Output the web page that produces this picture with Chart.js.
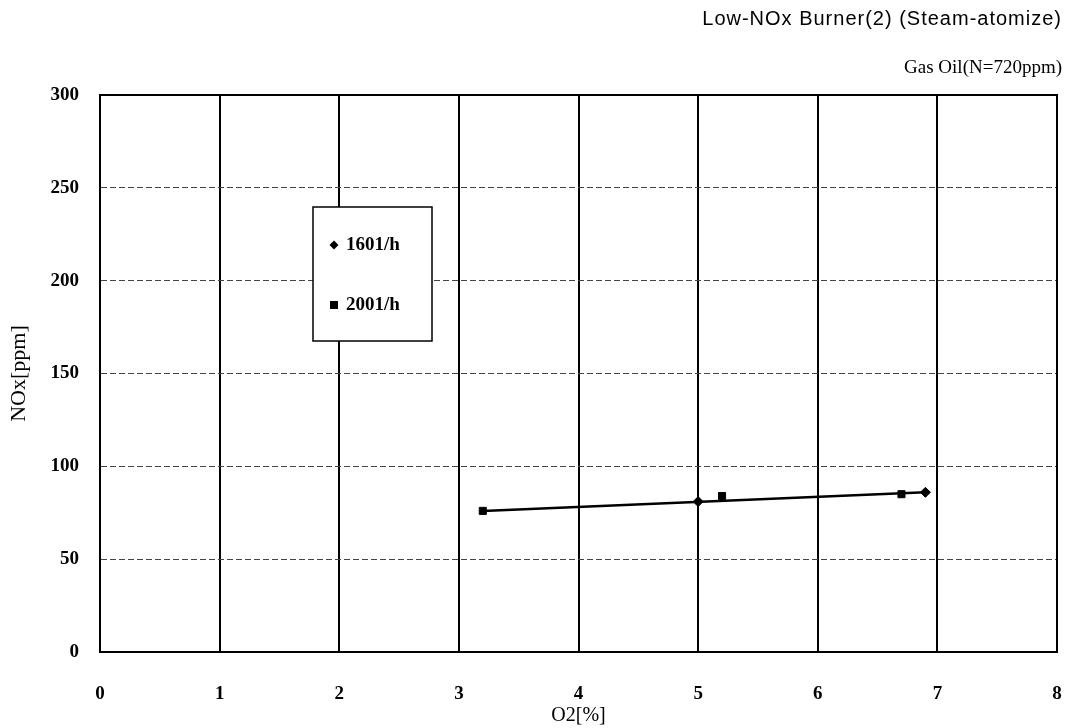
<!DOCTYPE html>
<html>
<head>
<meta charset="utf-8">
<script src="https://cdn.jsdelivr.net/npm/chart.js@4.4.1/dist/chart.umd.min.js"></script>
<style>
  html, body { margin: 0; padding: 0; background: #ffffff; }
  #wrap { width: 1075px; height: 728px; position: relative; }
</style>
</head>
<body>
<div id="wrap"><canvas id="c" width="1075" height="728"></canvas></div>
<script>
// Measured NOx against flue-gas O2 for the low-NOx burner firing gas oil
const titleLines = ['Low-NOx Burner(2) (Steam-atomize)', 'Gas Oil(N=720ppm)'];
const seriesLabels = ['1601/h', '2001/h'];
const o2_160 = [5.0, 6.9];
const nox_160 = [81, 86];
const o2_200 = [3.2, 5.2, 6.7];
const nox_200 = [76, 84, 85];
// linear trend drawn across the measured range
const trendO2 = [3.2, 6.9];
const trendNOx = [76, 86];
const xTicks = [0, 1, 2, 3, 4, 5, 6, 7, 8];
const yTicks = [0, 50, 100, 150, 200, 250, 300];

const pts = (xs, ys) => xs.map((x, i) => ({ x: x, y: ys[i] }));
const serif = '"Liberation Serif", "DejaVu Serif", serif';

const headerAndLegend = {
  id: 'headerAndLegend',
  afterDraw(chart) {
    const ctx = chart.ctx;
    ctx.save();
    ctx.fillStyle = '#000';
    ctx.textAlign = 'right';
    ctx.textBaseline = 'middle';
    ctx.font = '20px "Liberation Sans", Arial, sans-serif';
    ctx.letterSpacing = '1px';
    ctx.fillText(titleLines[0], 1062, 19);
    ctx.letterSpacing = '0px';
    ctx.font = '19px ' + serif;
    ctx.fillText(titleLines[1], 1062, 68);

    // legend box inside the plot
    const bx = 313, by = 207, bw = 119, bh = 134;
    ctx.fillStyle = '#fff';
    ctx.fillRect(bx, by, bw, bh);
    ctx.strokeStyle = '#000';
    ctx.lineWidth = 1.5;
    ctx.strokeRect(bx, by, bw, bh);
    ctx.fillStyle = '#000';
    ctx.textAlign = 'left';
    ctx.font = 'bold 19px ' + serif;
    const rows = [245, 305];
    chart.data.datasets.slice(0, 2).forEach((ds, i) => {
      const cy = rows[i];
      const cx = 334;
      ctx.beginPath();
      if (ds.pointStyle === 'rectRot') {
        ctx.moveTo(cx, cy - 4.5); ctx.lineTo(cx + 4.5, cy); ctx.lineTo(cx, cy + 4.5); ctx.lineTo(cx - 4.5, cy);
      } else {
        ctx.rect(cx - 4, cy - 4, 8, 8);
      }
      ctx.closePath();
      ctx.fill();
      ctx.fillText(ds.label, 346, cy);
    });
    ctx.restore();
  }
};

new Chart(document.getElementById('c'), {
  type: 'scatter',
  data: {
    datasets: [
      {
        label: seriesLabels[0],
        data: pts(o2_160, nox_160),
        pointStyle: 'rectRot',
        pointRadius: 5,
        backgroundColor: '#000',
        borderColor: '#000',
        showLine: false
      },
      {
        label: seriesLabels[1],
        data: pts(o2_200, nox_200),
        pointStyle: 'rect',
        pointRadius: 5,
        backgroundColor: '#000',
        borderColor: '#000',
        showLine: false
      },
      {
        label: 'trend',
        data: pts(trendO2, trendNOx),
        showLine: true,
        pointRadius: 0,
        borderColor: '#000',
        borderWidth: 2.5
      }
    ]
  },
  options: {
    responsive: false,
    animation: false,
    layout: { padding: { left: 0, right: 18, top: 95, bottom: 0 } },
    plugins: {
      legend: { display: false },
      tooltip: { enabled: false }
    },
    scales: {
      x: {
        type: 'linear',
        min: 0, max: 8,
        afterBuildTicks: (s) => { s.ticks = xTicks.map(v => ({ value: v })); },
        afterFit: (s) => { s.height = 76; s.paddingLeft = 0; s.paddingRight = 0; },
        border: { display: true, color: '#000', width: 2 },
        grid: { color: '#000', lineWidth: 2, drawTicks: false },
        ticks: { color: '#000', padding: 31, font: { family: serif, size: 19, weight: 'bold' } },
        title: { display: true, text: 'O2[%]', color: '#000', padding: { top: 0, bottom: 0 }, font: { family: serif, size: 20 } }
      },
      y: {
        type: 'linear',
        min: 0, max: 300,
        afterBuildTicks: (s) => { s.ticks = yTicks.map(v => ({ value: v })); },
        afterFit: (s) => { s.width = 100; s.paddingTop = 0; s.paddingBottom = 0; },
        border: { display: true, color: '#000', width: 2, dash: [6, 3] },
        grid: { color: '#444', lineWidth: 1, drawTicks: false },
        ticks: { color: '#000', padding: 21, font: { family: serif, size: 19, weight: 'bold' } },
        title: { display: true, text: 'NOx[ppm]', color: '#000', padding: { top: 6, bottom: 0 }, font: { family: serif, size: 22 } }
      }
    }
  },
  plugins: [headerAndLegend, {
    id: 'frame',
    afterDatasetsDraw(chart) {
      const a = chart.chartArea, ctx = chart.ctx;
      ctx.save();
      ctx.strokeStyle = '#000';
      ctx.lineWidth = 2;
      ctx.strokeRect(a.left, a.top, a.right - a.left, a.bottom - a.top);
      ctx.restore();
    }
  }]
});
</script>
</body>
</html>
